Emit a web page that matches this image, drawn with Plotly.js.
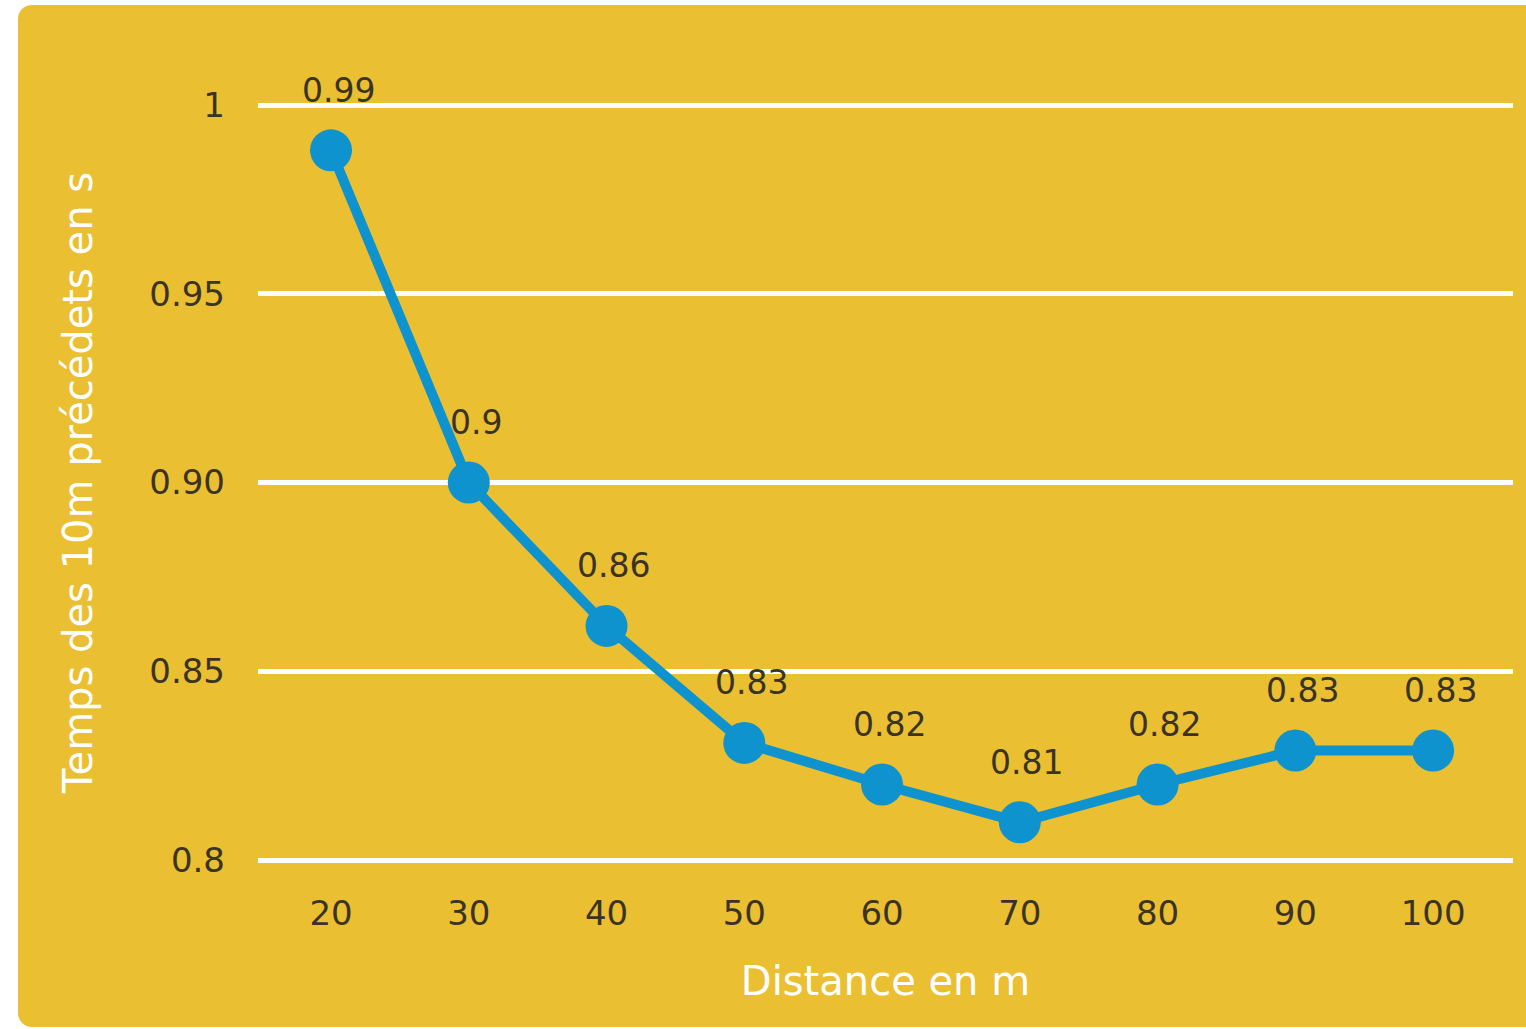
<!DOCTYPE html>
<html>
<head>
<meta charset="utf-8">
<script src="https://cdn.plot.ly/plotly-3.0.1.min.js"></script>
<style>
html, body { margin: 0; padding: 0; background: #ffffff; overflow: hidden; width: 1526px; height: 1029px; }
#bg { position: absolute; left: 18px; top: 5px; width: 1540px; height: 1022px; background: #EABF31; border-radius: 14px; }
#chart { position: absolute; left: 0; top: 0; width: 1526px; height: 1029px; }
</style>
</head>
<body>
<div id="bg"></div>
<div id="chart"></div>
<script>
// Data
const distances = [20, 30, 40, 50, 60, 70, 80, 90, 100];
const times = [0.988, 0.900, 0.862, 0.831, 0.820, 0.810, 0.820, 0.829, 0.829];
const timeLabels = ["0.99", "0.9", "0.86", "0.83", "0.82", "0.81", "0.82", "0.83", "0.83"];
const yTickVals = [0.8, 0.85, 0.90, 0.95, 1];
const yTickText = ["0.8", "0.85", "0.90", "0.95", "1"];
const xTickVals = [20, 30, 40, 50, 60, 70, 80, 90, 100];
const xTickText = ["20", "30", "40", "50", "60", "70", "80", "90", "100"];
const xTitle = "Distance en m";
const yTitle = "Temps des 10m précédets en s";

const FONT = "DejaVu Sans, sans-serif";
const TEXT_DARK = "#3a3326";
const BLUE = "#0E93CF";

const trace = {
  x: distances,
  y: times,
  type: "scatter",
  mode: "lines+markers",
  line: { color: BLUE, width: 10 },
  marker: { color: BLUE, size: 42 },
  hoverinfo: "skip",
  showlegend: false
};

const annotations = distances.map((d, i) => ({
  x: d, y: times[i], xref: "x", yref: "y",
  text: timeLabels[i], showarrow: false,
  xshift: 7, yshift: 60,
  font: { family: FONT, size: 33, color: TEXT_DARK }
}));

const layout = {
  width: 1526, height: 1029,
  paper_bgcolor: "rgba(0,0,0,0)",
  plot_bgcolor: "rgba(0,0,0,0)",
  margin: { l: 258, r: 13, t: 95, b: 159 },
  showlegend: false,
  xaxis: {
    range: [14.7, 105.8],
    tickvals: xTickVals, ticktext: xTickText,
    showgrid: false, zeroline: false, showline: false, ticks: "",
    ticklabelstandoff: 20,
    tickfont: { family: FONT, size: 34, color: TEXT_DARK },
    title: { text: xTitle, standoff: 34, font: { family: FONT, size: 40, color: "#ffffff" } },
    fixedrange: true
  },
  yaxis: {
    range: [0.79735, 1.00265],
    tickvals: yTickVals, ticktext: yTickText,
    showgrid: true, gridcolor: "#ffffff", gridwidth: 5,
    zeroline: false, showline: false, ticks: "",
    ticklabelstandoff: 32,
    tickfont: { family: FONT, size: 34, color: TEXT_DARK },
    title: { text: yTitle, standoff: 44, font: { family: FONT, size: 40, color: "#ffffff" } },
    fixedrange: true
  },
  annotations: annotations
};

Plotly.newPlot("chart", [trace], layout, { displayModeBar: false, staticPlot: true });
</script>
</body>
</html>
